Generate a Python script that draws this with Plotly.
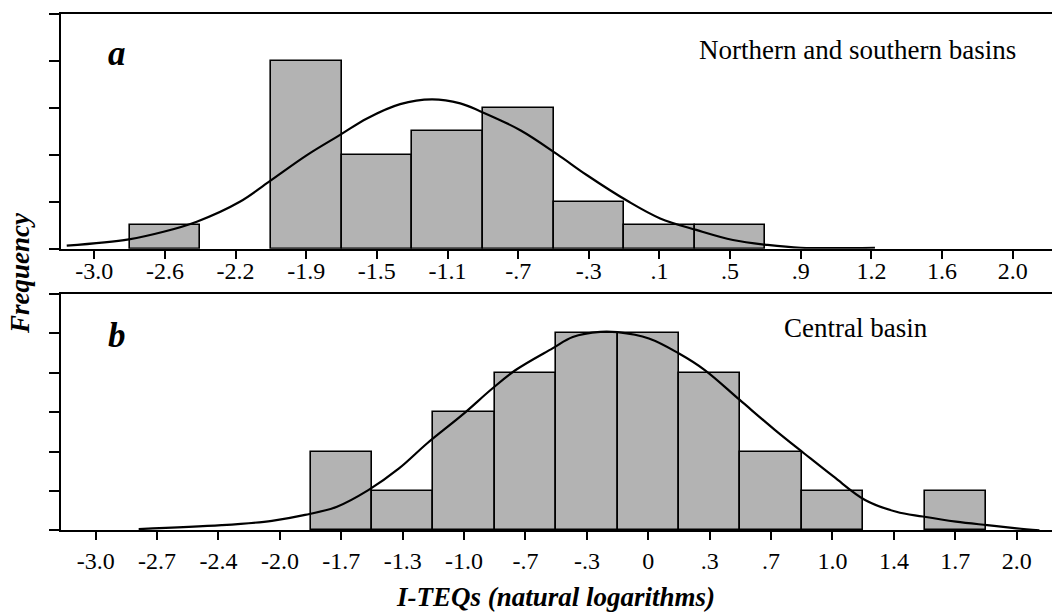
import plotly.graph_objects as go

# ---------------- data ----------------
# panel a: Northern and southern basins (bins indexed by tick position)
a_tick_labels = ["-3.0", "-2.6", "-2.2", "-1.9", "-1.5", "-1.1", "-.7", "-.3",
                 ".1", ".5", ".9", "1.2", "1.6", "2.0"]
a_counts = [0, 1, 0, 8, 4, 5, 6, 2, 1, 1, 0, 0, 0, 0]
a_curve_x = [-0.39, 0.49, 0.98, 1.45, 2.06, 2.47, 3.01, 3.49, 3.86, 4.33, 4.78,
             5.18, 5.46, 6.03, 6.55, 6.97, 7.55, 8.01, 8.52, 9.04, 9.53, 10.0, 11.05]
a_curve_y = [0.13, 0.40, 0.72, 1.15, 2.0, 2.85, 3.99, 4.87, 5.55, 6.16, 6.36,
             6.19, 5.86, 5.05, 4.03, 3.14, 2.03, 1.29, 0.80, 0.37, 0.16, 0.04, 0.04]

# panel b: Central basin
b_tick_labels = ["-3.0", "-2.7", "-2.4", "-2.0", "-1.7", "-1.3", "-1.0", "-.7",
                 "-.3", "0", ".3", ".7", "1.0", "1.4", "1.7", "2.0"]
b_counts = [0, 0, 0, 0, 2, 1, 3, 4, 5, 5, 4, 2, 1, 0, 1, 0]
b_curve_x = [0.7, 2.05, 2.87, 3.41, 3.93, 4.44, 4.94, 5.40, 5.97, 6.46, 6.84, 7.44,
             7.77, 8.22, 8.50, 9.01, 9.50, 9.92, 10.49, 11.06, 11.54, 12.02, 12.53,
             13.04, 13.47, 14.01, 14.52, 15.0, 15.37]
b_curve_y = [0.03, 0.13, 0.24, 0.39, 0.60, 1.02, 1.57, 2.21, 2.93, 3.60, 4.07, 4.62,
             4.91, 5.04, 5.03, 4.87, 4.49, 4.07, 3.31, 2.55, 1.95, 1.36, 0.77,
             0.47, 0.35, 0.22, 0.13, 0.05, 0.0]

# ---------------- figure ----------------
W, H = 1052, 614
SERIF = "Liberation Serif, Times New Roman, serif"
BAR_FILL = "#b3b3b3"

fig = go.Figure()


def add_panel(counts, cx, cy, xa, ya):
    xs = [i for i, c in enumerate(counts) if c > 0]
    ys = [c for c in counts if c > 0]
    fig.add_trace(go.Bar(x=xs, y=ys, width=1.0, xaxis=xa, yaxis=ya,
                         marker=dict(color=BAR_FILL, line=dict(color="black", width=1.6)),
                         showlegend=False, hoverinfo="skip"))
    fig.add_trace(go.Scatter(x=cx, y=cy, mode="lines", xaxis=xa, yaxis=ya,
                             line=dict(color="black", width=2.2, shape="spline", smoothing=1.0),
                             showlegend=False, hoverinfo="skip"))


add_panel(a_counts, a_curve_x, a_curve_y, "x", "y")
add_panel(b_counts, b_curve_x, b_curve_y, "x2", "y2")

x0 = 61 / W
common_x = dict(showline=True, linecolor="black", linewidth=2, mirror=True,
                ticks="outside", ticklen=8, tickwidth=2, tickcolor="black",
                showgrid=False, zeroline=False,
                tickfont=dict(family=SERIF, size=24, color="black"))
common_y = dict(showline=True, linecolor="black", linewidth=2, mirror=False,
                ticks="outside", ticklen=10, tickwidth=2, tickcolor="black",
                showgrid=False, zeroline=False, showticklabels=False)

fig.update_layout(
    width=W, height=H,
    margin=dict(l=0, r=0, t=0, b=0),
    paper_bgcolor="white", plot_bgcolor="white",
    bargap=0, barmode="overlay",
    xaxis=dict(common_x, domain=[x0, 1], anchor="y", range=[-0.471, 13.556],
               tickmode="array", tickvals=list(range(len(a_tick_labels))),
               ticktext=a_tick_labels, ticklabelstandoff=-9),
    yaxis=dict(common_y, domain=[1 - 248.7 / H, 1 - 14 / H], anchor="x",
               range=[0, 10], tickmode="array", tickvals=[0, 2, 4, 6, 8, 10]),
    xaxis2=dict(common_x, domain=[x0, 1], anchor="y2", range=[-0.565, 15.575],
                tickmode="array", tickvals=list(range(len(b_tick_labels))),
                ticktext=b_tick_labels),
    yaxis2=dict(common_y, domain=[1 - 530.3 / H, 1 - 294 / H], anchor="x2",
                range=[0, 6], tickmode="array", tickvals=[0, 1, 2, 3, 4, 5, 6]),
)


def ann(text, px, py, size, angle=0):
    fig.add_annotation(text=text, x=px / W, y=1 - py / H, xref="paper", yref="paper",
                       xanchor="center", yanchor="middle", showarrow=False,
                       textangle=angle, font=dict(family=SERIF, size=size, color="black"))


ann("<b><i>a</i></b>", 117, 53.5, 35)
ann("<b><i>b</i></b>", 117, 335.5, 35)
ann("Northern and southern basins", 857, 50.4, 27)
ann("Central basin", 856, 327.8, 27)
ann("<b><i>Frequency</i></b>", 20, 273, 27, angle=-90)
ann("<b><i>I-TEQs (natural logarithms)</i></b>", 555, 597, 27)

fig.write_html("out.html",
               config={"displayModeBar": False},
               post_script="document.body.style.margin='0';document.body.style.padding='0';"
                           "document.documentElement.style.overflow='hidden';")
